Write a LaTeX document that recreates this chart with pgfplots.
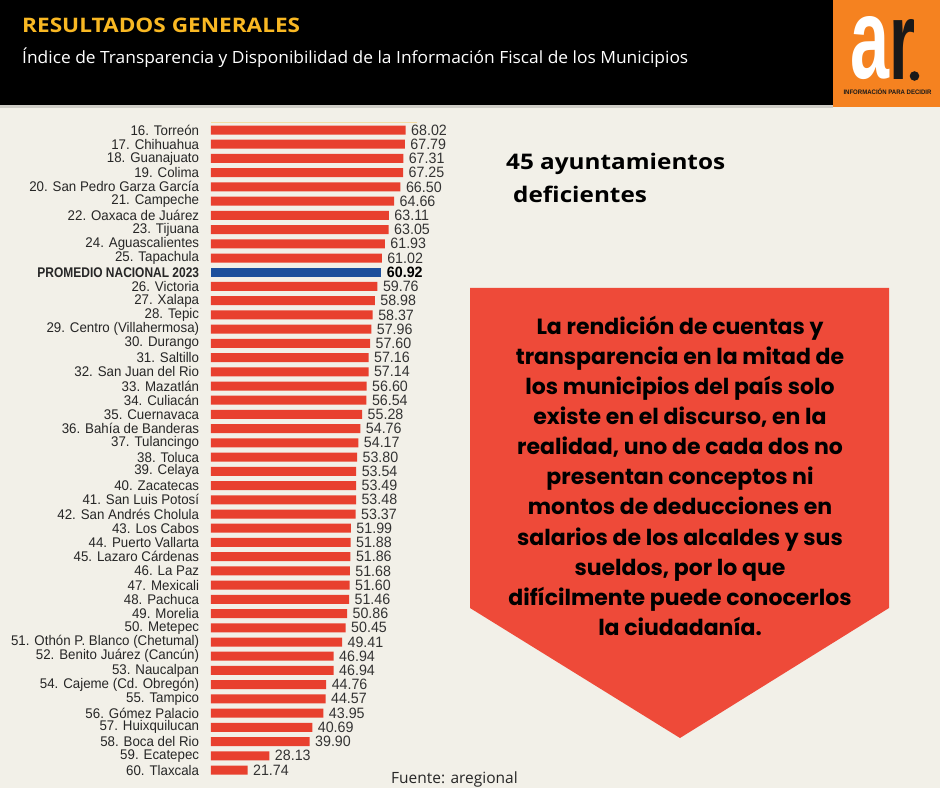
\documentclass[border=0pt]{standalone}
\usepackage{fontspec}
\usepackage{graphicx}
\usepackage{pgfplots}
\pgfplotsset{compat=1.18}
\setmainfont{Liberation Sans}
\newfontfamily\labfam[FakeStretch=0.95]{Liberation Sans}
\newfontfamily\opensans{Open Sans}
\newfontfamily\poppins{Poppins}
\definecolor{bg}{HTML}{F2F0E8}
\definecolor{barred}{HTML}{E8402E}
\definecolor{barblue}{HTML}{1C4F9C}
\definecolor{pent}{HTML}{EE4A39}
\definecolor{hy}{HTML}{F9B823}
\definecolor{logoorange}{HTML}{F58220}
\definecolor{headgray}{HTML}{CFCDC6}
\newcommand\labfont{\labfam\fontsize{14}{14}\selectfont}
\newcommand\valfont{\labfam\fontsize{15}{15}\selectfont}

\pgfplotstableread{
i v
0 68.02
1 67.79
2 67.31
3 67.25
4 66.50
5 64.66
6 63.11
7 63.05
8 61.93
9 61.02
11 59.76
12 58.98
13 58.37
14 57.96
15 57.60
16 57.16
17 57.14
18 56.60
19 56.54
20 55.28
21 54.76
22 54.17
23 53.80
24 53.54
25 53.49
26 53.48
27 53.37
28 51.99
29 51.88
30 51.86
31 51.68
32 51.60
33 51.46
34 50.86
35 50.45
36 49.41
37 46.94
38 46.94
39 44.76
40 44.57
41 43.95
42 40.69
43 39.90
44 28.13
45 21.74
}\municipios

\pgfplotstableread{
i v
10 60.92
}\promedio

\begin{document}
\begin{tikzpicture}[x=1pt,y=1pt]
% background
\fill[bg] (0,0) rectangle (940,788);
% header
\fill[black] (0,788) rectangle (833,683);
\fill[headgray] (0,683) rectangle (833,680);
\fill[logoorange] (833,788) rectangle (940,681);
\node[anchor=base west, inner sep=0, text=hy] at (22,755)
  {\resizebox{278pt}{\height}{\opensans\bfseries\fontsize{20}{24}\selectfont RESULTADOS GENERALES}};
\node[anchor=base west, inner sep=0, text=white] at (22,724.5)
  {\resizebox{666pt}{\height}{\opensans\fontsize{16.8}{20}\selectfont Índice de Transparencia y Disponibilidad de la Información Fiscal de los Municipios}};
% logo
\node[anchor=south west, inner sep=0, text=white] at (850,708)
  {\resizebox{39pt}{62pt}{\bfseries a}};
\node[anchor=south west, inner sep=0, text=black!90] at (889,708)
  {\resizebox{26pt}{60pt}{\bfseries r}};
\fill[black!90] (914.5,712) circle (4.8);
\node[anchor=base, inner sep=0, text=black!90] at (887.5,693)
  {\resizebox{88pt}{\height}{\bfseries\fontsize{6.5}{7}\selectfont INFORMACIÓN PARA DECIDIR}};
% right side text
\node[anchor=base west, inner sep=0] at (506,618)
  {\scalebox{1.13}[1]{\opensans\bfseries\fontsize{21.5}{24}\selectfont 45 ayuntamientos}};
\node[anchor=base west, inner sep=0] at (513,585)
  {\scalebox{1.13}[1]{\opensans\bfseries\fontsize{21.5}{24}\selectfont deficientes}};
% pentagon
\fill[pent] (470,500) -- (889,500) -- (889,180) -- (680,50) -- (470,180) -- cycle;
\foreach \t [count=\k from 0] in {{La rendición de cuentas y},{transparencia en la mitad de},{los municipios del país solo},{existe en el discurso, en la},{realidad, uno de cada dos no},{presentan conceptos ni},{montos de deducciones en},{salarios de los alcaldes y sus},{sueldos, por lo que},{difícilmente puede conocerlos},{la ciudadanía.}}
  \node[anchor=base, inner sep=0] at (680,453-30*\k) {\poppins\bfseries\fontsize{22}{26}\selectfont \t};
% source
\node[anchor=base west, inner sep=0, text=black!85] at (391,5)
  {\opensans\fontsize{15.5}{18}\selectfont Fuente: aregional};
% faint line above bars
\draw[line width=0.8pt, color=hy!35!bg] (211,666) -- (417,666);

\begin{axis}[
  at={(210.9pt,10.9pt)}, anchor=south west,
  scale only axis, width=252.8pt, height=654.2pt,
  xmin=11, xmax=85, ymin=-0.5, ymax=45.5,
  y dir=reverse,
  xbar, bar width=9pt, bar shift=0pt,
  axis line style={draw=none}, tick style={draw=none},
  xtick=\empty,
  ytick={0,...,45},
  yticklabels={16. Torreón,17. Chihuahua,18. Guanajuato,19. Colima,20. San Pedro Garza García,21. Campeche,22. Oaxaca de Juárez,23. Tijuana,24. Aguascalientes,25. Tapachula,{\scalebox{0.9}[1]{\bfseries PROMEDIO NACIONAL 2023}},26. Victoria,27. Xalapa,28. Tepic,29. Centro (Villahermosa),30. Durango,31. Saltillo,32. San Juan del Rio,33. Mazatlán,34. Culiacán,35. Cuernavaca,36. Bahía de Banderas,37. Tulancingo,38. Toluca,39. Celaya,40. Zacatecas,41. San Luis Potosí,42. San Andrés Cholula,43. Los Cabos,44. Puerto Vallarta,45. Lazaro Cárdenas,46. La Paz,47. Mexicali,48. Pachuca,49. Morelia,50. Metepec,51. Othón P. Blanco (Chetumal),52. Benito Juárez (Cancún),53. Naucalpan,54. Cajeme (Cd. Obregón),55. Tampico,56. Gómez Palacio,57. Huixquilucan,58. Boca del Rio,59. Ecatepec,60. Tlaxcala},
  yticklabel style={font=\labfont, text=black!85, xshift=-4pt},
  nodes near coords,
  nodes near coords align=horizontal,
  every node near coord/.append style={font=\valfont, text=black!80, anchor=west, xshift=2pt},
  /pgf/number format/.cd, fixed, fixed zerofill, precision=2, assume math mode=true,
]
\addplot[fill=barred, draw=none] table[x=v, y=i] {\municipios};
\addplot[fill=barblue, draw=none, every node near coord/.append style={font=\valfont\bfseries, text=black}] table[x=v, y=i] {\promedio};
\end{axis}
\end{tikzpicture}
\end{document}
